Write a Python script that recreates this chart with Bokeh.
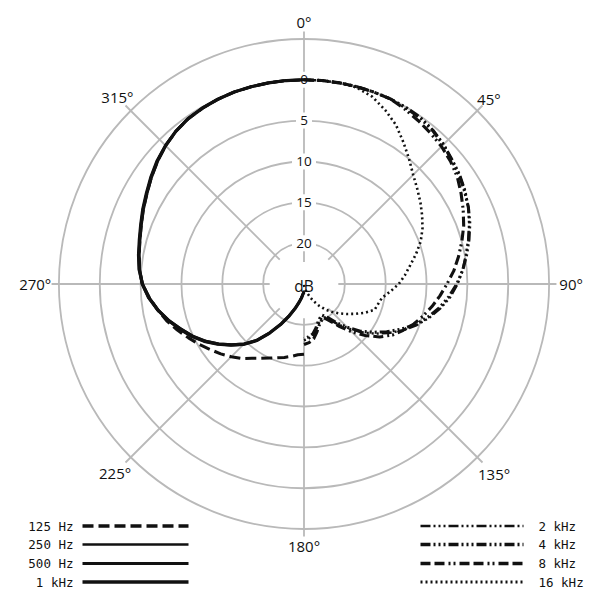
import numpy as np
from bokeh.plotting import figure
from bokeh.models import Range1d
from bokeh.core.properties import value
from bokeh.embed import file_html
from bokeh.resources import INLINE

# ---------------- data (attenuation in dB relative to 0 deg) ----------------
ANGLES_LOW = list(range(180, 361, 5))
DB_125HZ = [16.4, 16.3, 16.0, 15.7, 15.4, 15.0, 14.5, 13.9, 13.1, 12.4, 11.7, 11.0, 10.2, 9.4,
            8.5, 7.6, 6.8, 6.0, 5.2, 4.8, 4.5, 4.2, 3.8, 3.3, 2.8, 2.2, 1.6, 1.05, 0.6, 0.3,
            0.15, 0.05, 0.0, 0.0, 0.0, 0.0, 0.0]
DB_250HZ = [24.2, 23.9, 23.4, 22.8, 21.9, 20.8, 19.4, 17.8, 16.1, 14.7, 13.5, 12.3, 11.1, 10.0,
            9.0, 7.9, 6.9, 6.0, 5.3, 4.8, 4.5, 4.2, 3.8, 3.3, 2.8, 2.2, 1.6, 1.05, 0.6, 0.3,
            0.15, 0.05, 0.0, 0.0, 0.0, 0.0, 0.0]
DB_500HZ = [24.1, 23.8, 23.3, 22.6, 21.8, 20.6, 19.2, 17.6, 15.9, 14.5, 13.3, 12.1, 10.9, 9.8,
            8.8, 7.8, 6.8, 5.9, 5.2, 4.7, 4.4, 4.1, 3.7, 3.2, 2.7, 2.1, 1.5, 1.0, 0.6, 0.25,
            0.1, 0.05, 0.0, 0.0, 0.0, 0.0, 0.0]
DB_1KHZ = [24.0, 23.8, 23.3, 22.7, 21.8, 20.7, 19.3, 17.7, 16.0, 14.6, 13.4, 12.2, 11.0, 9.9,
           8.9, 7.8, 6.8, 5.9, 5.2, 4.8, 4.5, 4.2, 3.8, 3.3, 2.8, 2.2, 1.6, 1.05, 0.6, 0.3,
           0.15, 0.05, 0.0, 0.0, 0.0, 0.0, 0.0]

ANGLES_HIGH = list(range(0, 181, 5))
DB_2KHZ = [0.0, 0.0, 0.0, 0.0, 0.0, 0.0, 0.0, 0.1, 0.4, 0.8, 1.3, 1.7, 2.2, 2.8, 3.5, 4.2,
           4.9, 5.5, 6.2, 7.0, 8.0, 9.1, 10.3, 11.6, 13.0, 14.4, 15.8, 17.3, 18.6, 19.8,
           20.4, 20.2, 19.8, 19.2, 18.6, 18.3, 18.1]
DB_4KHZ = [0.0, 0.0, 0.0, 0.0, 0.0, 0.0, 0.1, 0.2, 0.5, 0.9, 1.4, 1.8, 2.3, 2.8, 3.4, 4.1,
           4.8, 5.5, 6.3, 7.2, 8.2, 9.3, 10.5, 11.9, 13.3, 14.7, 16.0, 17.5, 18.8, 20.0,
           20.6, 20.4, 20.0, 19.4, 18.8, 18.5, 18.3]
DB_8KHZ = [0.0, 0.0, 0.0, 0.0, 0.0, 0.0, 0.3, 0.6, 0.9, 1.2, 1.6, 2.1, 2.8, 3.5, 4.2, 5.0,
           5.8, 6.6, 7.5, 8.3, 9.1, 9.9, 10.7, 11.6, 12.5, 13.7, 15.2, 16.7, 18.2, 19.5,
           20.3, 20.0, 19.6, 18.9, 18.2, 17.8, 17.6]
DB_16KHZ = [0.0, 0.0, 0.0, 0.1, 0.6, 1.5, 2.5, 3.8, 5.0, 6.1, 6.9, 7.6, 8.3, 9.0, 9.8, 10.8,
            11.8, 12.6, 13.4, 14.4, 15.3, 15.6, 15.8, 16.7, 17.7, 18.6, 19.4, 20.2, 20.9,
            21.7, 22.5, 23.2, 23.8, 24.2, 24.6, 24.8, 25.0]

LOW_NAMES = ["125 Hz", "250 Hz", "500 Hz", "1 kHz"]
HIGH_NAMES = ["2 kHz", "4 kHz", "8 kHz", "16 kHz"]

DB_RANGE = 25                      # centre of the plot = 25 dB down
RING_DB = [20, 15, 10, 5, 0, -5]
RING_LABELS = ["0", "5", "10", "15", "20"]
RING_LABEL_DB = [0, 5, 10, 15, 20]
ANGLE_TICKS = [0, 45, 90, 135, 180, 225, 270, 315]
ANGLE_LABELS = ["0°", "45°", "90°", "135°", "180°", "225°", "270°", "315°"]

# ---------------- layout ----------------
W = H = 598
SCALE = 8.17          # px per dB
CX, CY = 303.5, 283.5 # pixel position of the centre
GRID = "#b9b9b9"
INK = "#111111"
FONT = "Open Sans"
MONO = "DejaVu Sans Mono"

def px(x, y):
    return (x - CX) / SCALE, (CY - y) / SCALE

x0, y1 = px(0, 0)
x1, y0 = px(W, H)

p = figure(width=W, height=H, output_backend="svg", toolbar_location=None,
           x_axis_type=None, y_axis_type=None, min_border=0,
           x_range=Range1d(x0, x1), y_range=Range1d(y0, y1))
p.outline_line_color = None
p.background_fill_color = "white"
p.border_fill_color = "white"

def polar_xy(angles, db):
    th = np.radians(np.asarray(angles, dtype=float))
    r = DB_RANGE - np.asarray(db, dtype=float)
    return r * np.sin(th), r * np.cos(th)

# rings
p.circle(x=0, y=0, radius=[DB_RANGE - d for d in RING_DB], fill_color=None,
         line_color=GRID, line_width=1.8)

# radial lines
R_OUT = 30.9
rin = [2.7 if a == 0 else 4.2 for a in ANGLE_TICKS]
th = np.radians(ANGLE_TICKS)
p.segment(x0=np.array(rin) * np.sin(th), y0=np.array(rin) * np.cos(th),
          x1=R_OUT * np.sin(th), y1=R_OUT * np.cos(th),
          line_color=GRID, line_width=1.8)

# ring labels with white boxes
ry = [DB_RANGE - d for d in RING_LABEL_DB]
p.rect(x=[0] * len(ry), y=ry, width=[8 + 8 * len(t) for t in RING_LABELS], height=16,
       width_units="screen", height_units="screen", fill_color="white", line_color=None)
p.text(x=[0] * len(ry), y=ry, text=RING_LABELS, text_font=value(FONT),
       text_font_size=value("13.5px"), text_align="center", text_baseline="middle",
       text_color=INK)
p.text(x=[0], y=[px(0, 285)[1]], text=["dB"], text_font=value(FONT),
       text_font_size=value("15.5px"), text_align="center", text_baseline="middle",
       text_color=INK)

# angle labels
LABEL_R = [32.1, 32.0, 32.7, 32.9, 32.1, 32.7, 32.9, 32.3]
ta = np.radians(ANGLE_TICKS)
p.text(x=np.array(LABEL_R) * np.sin(ta), y=np.array(LABEL_R) * np.cos(ta), text=ANGLE_LABELS,
       text_font=value(FONT), text_font_size=value("15px"), text_align="center",
       text_baseline="middle", text_color=INK)

# curves
low_series = [DB_125HZ, DB_250HZ, DB_500HZ, DB_1KHZ]
high_series = [DB_2KHZ, DB_4KHZ, DB_8KHZ, DB_16KHZ]
low_style = [("11 5", 3.0), ("solid", 2.2), ("solid", 2.7), ("solid", 3.2)]
high_style = [("10 3 2 3 2 3 2 3", 2.4), ("10 3 2 3 2 3 2 3", 3.1),
              ("10 4 10 4 2 3 2 4", 3.1), ("2 3", 2.6)]

for db, (dash, w) in zip(low_series, low_style):
    xs, ys = polar_xy(ANGLES_LOW, db)
    p.line(xs, ys, line_color=INK, line_width=w, line_dash=dash, line_join="round")
for db, (dash, w) in zip(high_series, high_style):
    xs, ys = polar_xy(ANGLES_HIGH, db)
    p.line(xs, ys, line_color=INK, line_width=w, line_dash=dash, line_join="round")

# legends
ROWS = [525.5, 544, 563, 581.5]
for name, (dash, w), row in zip(LOW_NAMES, low_style, ROWS):
    a = px(82, row); b = px(188, row); t = px(73, row)
    p.line([a[0], b[0]], [a[1], b[1]], line_color=INK, line_width=w + 0.3, line_dash=dash)
    p.text(x=[t[0]], y=[t[1]], text=[name], text_font=value(MONO), text_font_size=value("12.5px"),
           text_align="right", text_baseline="middle", text_color=INK)
for name, (dash, w), row in zip(HIGH_NAMES, high_style, ROWS):
    a = px(420, row); b = px(523, row); t = px(538, row)
    p.line([a[0], b[0]], [a[1], b[1]], line_color=INK, line_width=w + 0.3, line_dash=dash)
    p.text(x=[t[0]], y=[t[1]], text=[name], text_font=value(MONO), text_font_size=value("12.5px"),
           text_align="left", text_baseline="middle", text_color=INK)

open("out.html", "w").write(file_html(p, INLINE))
